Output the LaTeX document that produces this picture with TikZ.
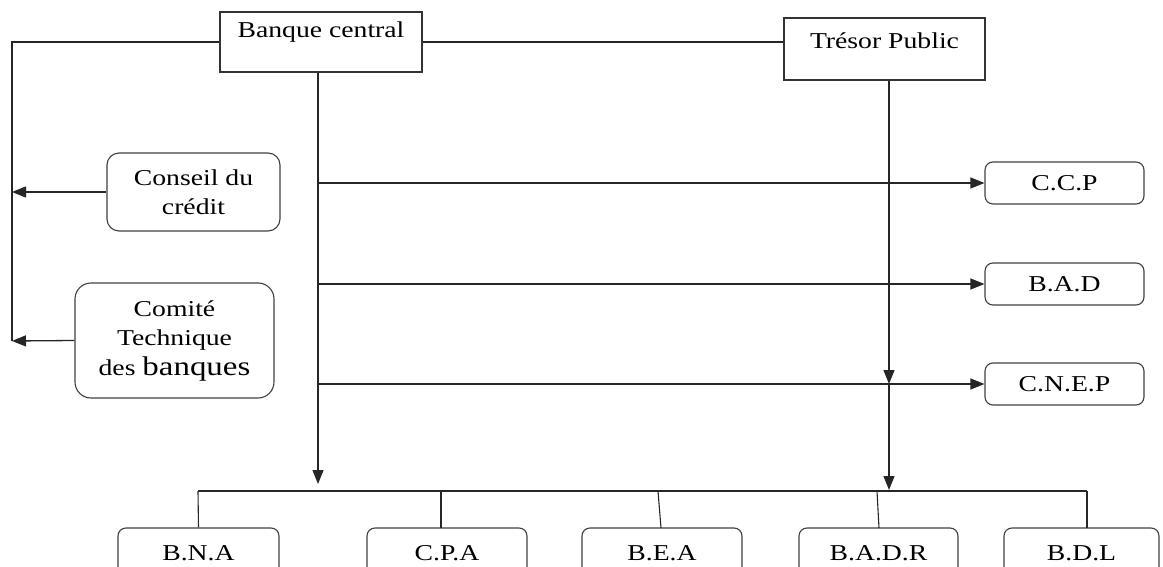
\documentclass[tikz,border=0pt]{standalone}
\usepackage{fontspec}
\setmainfont[FakeStretch=1.22]{Liberation Serif}
\usetikzlibrary{arrows.meta}
\begin{document}
\begin{tikzpicture}[x=1pt,y=-1pt,
  every node/.style={font=\fontsize{22.7}{29.5}\selectfont, inner sep=0pt},
  line/.style={line width=1.3pt, draw=black!85},
  arr/.style={line, -{Triangle[length=14pt,width=11pt]}},
  sqbox/.style={draw=black!80, line width=1.1pt},
  rbox/.style={draw=black!75, line width=1.1pt, align=center},
  sidebox/.style={rbox, rounded corners=8pt, minimum width=159pt, minimum height=42pt},
  botbox/.style={rbox, rounded corners=8pt, minimum width=160pt, minimum height=50pt}]
\useasboundingbox (0,0) rectangle (1163,567);
\clip (0,0) rectangle (1163,567);
% top boxes
\node[sqbox, minimum width=202pt, minimum height=60pt] (bc) at (321,42) {};
\node (bct) at (321,32) {Banque central};
\node[sqbox, minimum width=201pt, minimum height=62pt] (tp) at (884.5,49) {};
\node (tpt) at (884.5,41) {Trésor Public};
% left boxes
\node[rbox, rounded corners=12pt, minimum width=173pt, minimum height=78pt] (cc) at (193.5,192) {Conseil du\\crédit};
\node[rbox, rounded corners=16pt, minimum width=199pt, minimum height=115pt] (ct) at (174.5,340.5) {Comité\\Technique\\des {\fontsize{27}{29.5}\selectfont banques}};
% right boxes
\node[sidebox] (c1) at (1064.5,183) {C.C.P};
\node[sidebox] (c2) at (1064.5,284) {B.A.D};
\node[sidebox] (c3) at (1064.5,384) {C.N.E.P};
% bottom boxes
\node[botbox, minimum width=161pt] (b1) at (198.5,553) {B.N.A};
\node[botbox] (b2) at (447,553) {C.P.A};
\node[botbox] (b3) at (662,553) {B.E.A};
\node[botbox, minimum width=159pt] (b4) at (878.5,553) {B.A.D.R};
\node[botbox, minimum width=155pt] (b5) at (1081.5,553) {B.D.L};
% coordinates
\coordinate (lt) at (12,341);
\coordinate (bv) at (318,484);
\coordinate (tv) at (889,490);
\coordinate (busL) at (198,491);
\coordinate (busR) at (1087,491);
\coordinate (d2) at (441,528);
\coordinate (d3t) at (658,491);
\coordinate (d3) at (661,528);
\coordinate (d4t) at (877,491);
\coordinate (d4) at (879,528);
\coordinate (d5) at (1087,528);
% left connectors
\draw[line] (bc.west) -| (lt);
\draw[arr] (cc.west) -- (cc.west -| lt);
\draw[arr] (ct.west) -- (lt);
% banque - tresor
\draw[line] (bc.east) -- (bc.east -| tp.west);
% banque vertical
\draw[arr] (bc.south -| bv) -- (bv);
\draw[arr] (bv |- c1.west) -- (c1.west);
\draw[arr] (bv |- c2.west) -- (c2.west);
\draw[arr] (bv |- c3.west) -- (c3.west);
% tresor vertical
\draw[arr] (tp.south -| tv) -- (tv |- c3.west);
\draw[arr] (tv |- c3.west) -- (tv);
% bus
\draw[line, line width=1.1pt] (busL) -- (busR);
\draw[line, line width=1.1pt] (busL) -- (b1.north);
\draw[line, line width=1.1pt] (d2 |- busL) -- (d2);
\draw[line, line width=1.1pt] (d3t) -- (d3);
\draw[line, line width=1.1pt] (d4t) -- (d4);
\draw[line, line width=1.1pt] (busR) -- (d5);
\end{tikzpicture}
\end{document}
